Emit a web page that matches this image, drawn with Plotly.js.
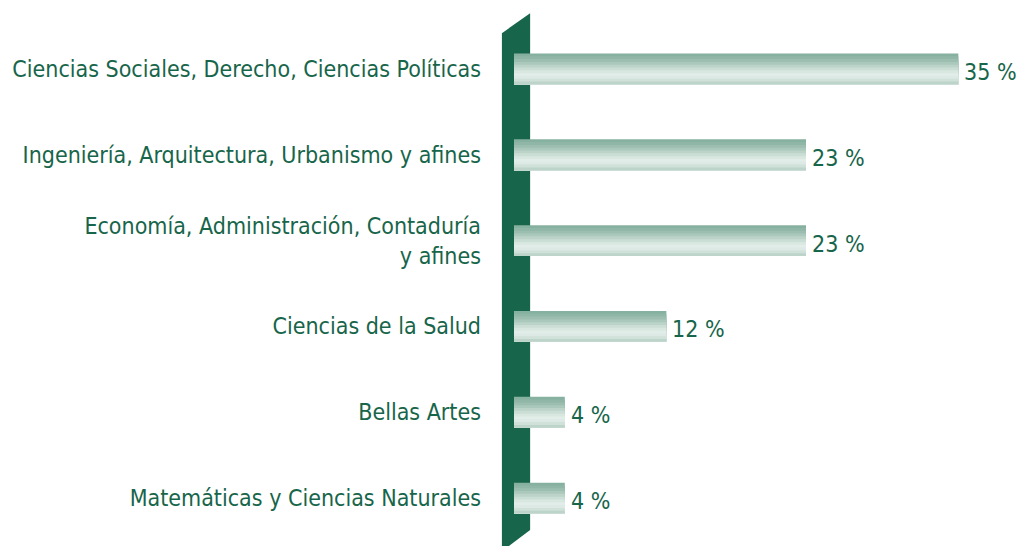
<!DOCTYPE html>
<html><head><meta charset="utf-8">
<script src="https://cdn.plot.ly/plotly-3.0.1.min.js"></script>
<style>html,body{margin:0;padding:0;background:#fff}#c{width:1020px;height:546px}</style>
</head><body><div id="c"></div>
<script>
const categories = [
  "Ciencias Sociales, Derecho, Ciencias Políticas",
  "Ingeniería, Arquitectura, Urbanismo y afines",
  "Economía, Administración, Contaduría<br>y afines",
  "Ciencias de la Salud",
  "Bellas Artes",
  "Matemáticas y Ciencias Naturales"
];
const values = [35, 23, 23, 12, 4, 4];
const valueLabels = values.map(v => v + " %");

const green = "#17654a";
const font = "'Liberation Sans Narrow', 'DejaVu Sans Condensed', 'Roboto Condensed', sans-serif";
const stripeColors = ["#86b09f","#8fb6a7","#9bbeb0","#aac8bb","#bbd3c8","#cbded5","#d9e7e1","#e1ede8","#dde9e4","#cfe1d9","#bdd4ca"];
const totalW = 0.36;
const n = stripeColors.length;
const sw = totalW / n;

const traces = stripeColors.map((c, i) => ({
  type: "bar", orientation: "h",
  x: values, y: categories,
  width: totalW - i * sw, offset: -totalW / 2 + i * sw,
  marker: {color: c, line: {width: 0}},
  hoverinfo: "skip", showlegend: false
}));

const annotations = values.map((v, i) => ({
  x: v, y: categories[i], xref: "x", yref: "y",
  text: valueLabels[i], showarrow: false,
  xanchor: "left", yanchor: "middle", xshift: 4, yshift: -3,
  font: {family: font, size: 23, color: green}
}));

const layout = {
  width: 1020, height: 546,
  margin: {l: 514, r: 2, t: 26, b: 5},
  paper_bgcolor: "#fff", plot_bgcolor: "rgba(0,0,0,0)",
  barmode: "overlay",
  showlegend: false,
  xaxis: {range: [0, 39.7], visible: false, fixedrange: true},
  yaxis: {
    type: "category", autorange: "reversed",
    showgrid: false, zeroline: false, showline: false, ticks: "",
    ticklabelstandoff: 32,
    tickfont: {family: font, size: 23, color: green}
  },
  annotations: annotations,
  shapes: [{
    type: "path", xref: "paper", yref: "paper", layer: "below",
    path: "M -0.024 0.986 L 0.032 1.025 L 0.032 0.0214 L -0.024 -0.02 Z",
    fillcolor: "#17654a", line: {width: 0}
  }]
};
Plotly.newPlot("c", traces, layout, {staticPlot: true});
</script></body></html>
